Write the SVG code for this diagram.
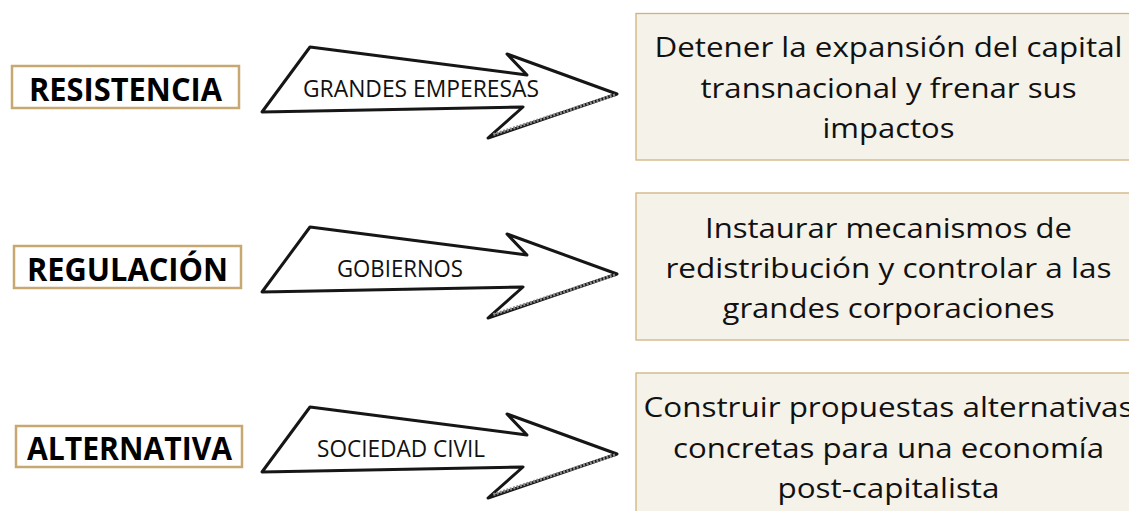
<svg xmlns="http://www.w3.org/2000/svg" width="1129" height="511" viewBox="0 0 1129 511">
  <style>
    .lbl-box { fill: #ffffff; stroke: #c6a870; stroke-width: 2.5; }
    .lbl { font-family: "Open Sans", "Liberation Sans", sans-serif; font-weight: 700; font-size: 32px; fill: #000000; }
    .desc-box { fill: #f5f2ea; stroke: #d2b27c; stroke-width: 1.3; }
    .desc { font-family: "Open Sans", "Liberation Sans", sans-serif; font-size: 28px; fill: #111111; text-anchor: middle; }
    .arrow { fill: #ffffff; stroke: #151515; stroke-width: 3; stroke-linejoin: round; filter: url(#soft); }
    .arrow-shade { fill: none; stroke: #8a8a8a; stroke-width: 3; stroke-dasharray: 2 1.5; filter: url(#soft); }
    .atext { font-family: "Open Sans", "Liberation Sans", sans-serif; font-size: 23px; fill: #111111; }
  </style>
  <defs>
    <filter id="soft" x="-5%" y="-10%" width="110%" height="120%">
      <feGaussianBlur stdDeviation="0.6"/>
    </filter>
    <g id="arrowShape">
      <polygon class="arrow" points="310,47 527,75 507,54 617,94 488,138 523,107 262,112"/>
      <line class="arrow-shade" x1="615" y1="95" x2="492" y2="135"/>
    </g>
  </defs>
  <rect width="1129" height="511" fill="#ffffff"/>

  <g id="connectors">
    <g id="arrow-1">
      <use href="#arrowShape"/>
      <text class="atext" x="303" y="97" textLength="236" lengthAdjust="spacingAndGlyphs">GRANDES EMPERESAS</text>
    </g>
    <g id="arrow-2">
      <use href="#arrowShape" transform="translate(0,180)"/>
      <text class="atext" x="337" y="277" textLength="126" lengthAdjust="spacingAndGlyphs">GOBIERNOS</text>
    </g>
    <g id="arrow-3">
      <use href="#arrowShape" transform="translate(0,360)"/>
      <text class="atext" x="317" y="457" textLength="168" lengthAdjust="spacingAndGlyphs">SOCIEDAD CIVIL</text>
    </g>
  </g>

  <g id="node-resistencia">
    <rect class="lbl-box" x="12" y="66" width="227" height="42"/>
    <text class="lbl" x="29" y="101" textLength="193" lengthAdjust="spacingAndGlyphs">RESISTENCIA</text>
  </g>
  <g id="node-regulacion">
    <rect class="lbl-box" x="14" y="246" width="227" height="42"/>
    <text class="lbl" x="27" y="281" textLength="201" lengthAdjust="spacingAndGlyphs">REGULACIÓN</text>
  </g>
  <g id="node-alternativa">
    <rect class="lbl-box" x="16" y="426" width="226" height="41"/>
    <text class="lbl" x="27" y="460" textLength="205" lengthAdjust="spacingAndGlyphs">ALTERNATIVA</text>
  </g>

  <g id="node-desc-1">
    <rect class="desc-box" x="636" y="13.5" width="510" height="146.5"/>
    <text class="desc" x="888.5" y="57" textLength="468" lengthAdjust="spacingAndGlyphs">Detener la expansión del capital</text>
    <text class="desc" x="888.5" y="97.5" textLength="376" lengthAdjust="spacingAndGlyphs">transnacional y frenar sus</text>
    <text class="desc" x="888.5" y="138" textLength="132" lengthAdjust="spacingAndGlyphs">impactos</text>
  </g>
  <g id="node-desc-2">
    <rect class="desc-box" x="636" y="193" width="510" height="147"/>
    <text class="desc" x="888.5" y="237.5" textLength="367" lengthAdjust="spacingAndGlyphs">Instaurar mecanismos de</text>
    <text class="desc" x="888.5" y="278" textLength="446" lengthAdjust="spacingAndGlyphs">redistribución y controlar a las</text>
    <text class="desc" x="888.5" y="318" textLength="332" lengthAdjust="spacingAndGlyphs">grandes corporaciones</text>
  </g>
  <g id="node-desc-3">
    <rect class="desc-box" x="636" y="373" width="510" height="150"/>
    <text class="desc" x="888.5" y="417" textLength="490" lengthAdjust="spacingAndGlyphs">Construir propuestas alternativas</text>
    <text class="desc" x="888.5" y="457.5" textLength="431" lengthAdjust="spacingAndGlyphs">concretas para una economía</text>
    <text class="desc" x="888.5" y="498" textLength="222" lengthAdjust="spacingAndGlyphs">post-capitalista</text>
  </g>
</svg>
